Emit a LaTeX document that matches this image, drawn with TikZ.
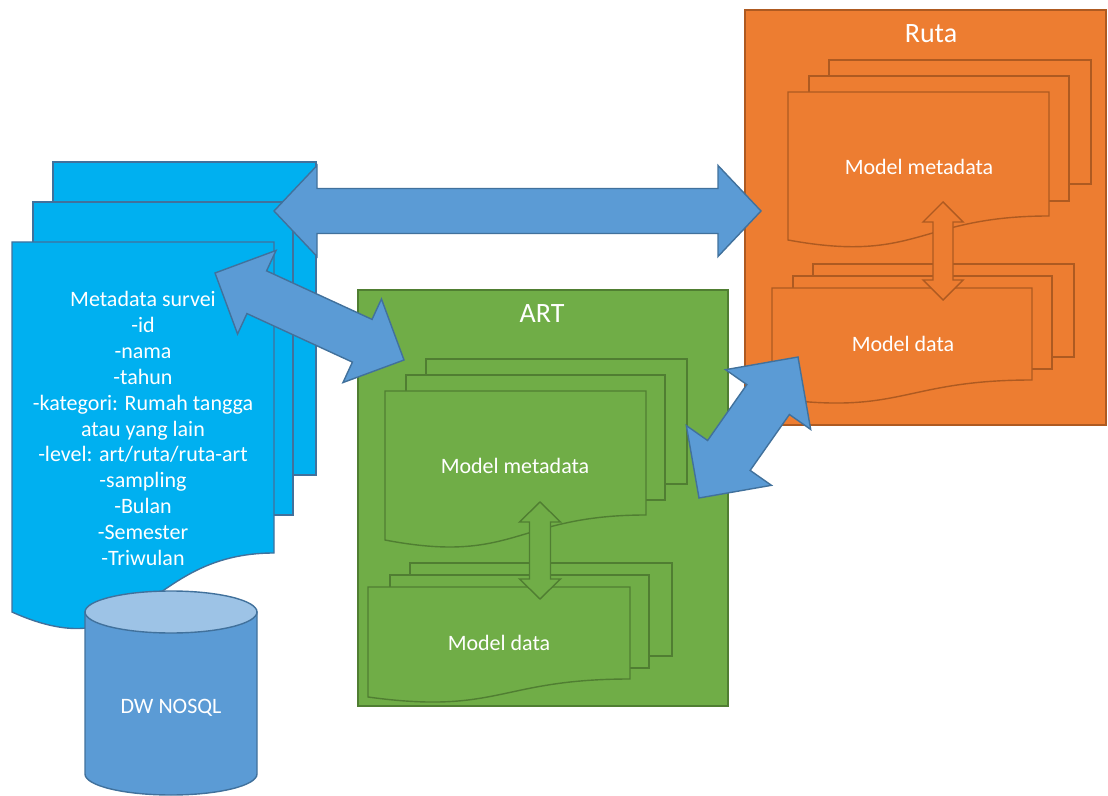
\documentclass[tikz,border=0pt]{standalone}
\usepackage{fontspec}
\setmainfont{Carlito}
\usepackage{tikz}
\usetikzlibrary{calc}

\definecolor{docblue}{HTML}{00B0F0}
\definecolor{lineblue}{HTML}{41719C}
\definecolor{arrowblue}{HTML}{5B9BD5}
\definecolor{topblue}{HTML}{9DC3E6}
\definecolor{rutaorange}{HTML}{ED7D31}
\definecolor{rutaline}{HTML}{AE5A21}
\definecolor{artgreen}{HTML}{70AD47}
\definecolor{artline}{HTML}{507E32}

\tikzset{
	bluepage/.style={fill=docblue,draw=lineblue,line width=0.7pt},
	rutapage/.style={fill=rutaorange,draw=rutaline,line width=0.7pt},
	artpage/.style={fill=artgreen,draw=artline,line width=0.7pt},
	bigarrow/.style={fill=arrowblue,draw=lineblue,line width=0.7pt,line join=miter},
	lbl/.style={text=white,font=\fontsize{11}{12.95}\selectfont,align=center},
	boxtitle/.style={text=white,font=\fontsize{14}{17}\selectfont}
}

% page with wavy bottom: style, x1, y1, x2, y right, y left
\newcommand{\docpage}[6]{\filldraw[#1] (#2,#3) -- (#4,#3) -- (#4,#5) .. controls ({(#2+#4)/2},#5) and ({(#2+#4)/2},{2*#6-#5}) .. (#2,#6) -- cycle;}

% block arrow with two heads: style, from, to, head length, head half width, shaft half width
\newcommand{\dblarrow}[6][bigarrow]{\filldraw[#1] (#2)
	-- ($(#2)!#4!(#3)!#5!90:(#3)$) -- ($(#2)!#4!(#3)!#6!90:(#3)$)
	-- ($(#3)!#4!(#2)!#6!-90:(#2)$) -- ($(#3)!#4!(#2)!#5!-90:(#2)$)
	-- (#3)
	-- ($(#3)!#4!(#2)!#5!90:(#2)$) -- ($(#3)!#4!(#2)!#6!90:(#2)$)
	-- ($(#2)!#4!(#3)!#6!-90:(#3)$) -- ($(#2)!#4!(#3)!#5!-90:(#3)$)
	-- cycle;}

\begin{document}
\begin{tikzpicture}[x=0.5pt,y=-0.5pt]
	\useasboundingbox (0,0) rectangle (1108,796);
	
	\filldraw[rutapage] (745,10) rectangle (1106,425);
	\filldraw[artpage] (358,290) rectangle (728,706);
	\node (ruta) at (931,34) [boxtitle] {Ruta};
	\node (art) at (542,314) [boxtitle] {ART};
	
	\filldraw[rutapage] (829,60) rectangle (1091,184);
	\filldraw[rutapage] (809,76) rectangle (1069,201);
	\docpage{rutapage}{788}{92}{1049}{216}{240}
	\filldraw[rutapage] (813,264) rectangle (1074,357);
	\filldraw[rutapage] (793,276) rectangle (1052,369);
	\docpage{rutapage}{772}{288}{1032}{380}{398}
	
	\filldraw[artpage] (426,359) rectangle (687,484);
	\filldraw[artpage] (406,375) rectangle (665,500);
	\docpage{artpage}{385}{391}{646}{515}{540}
	\filldraw[artpage] (410,563) rectangle (672,656);
	\filldraw[artpage] (390,575) rectangle (649,668);
	\docpage{artpage}{368}{587}{630}{679}{697}
	
	\coordinate (rm) at (943,202);
	\coordinate (rd) at (943,300);
	\coordinate (am) at (540,502);
	\coordinate (ad) at (540,599);
	\dblarrow[rutapage]{rm}{rd}{10pt}{10pt}{5pt}
	\dblarrow[artpage]{am}{ad}{10pt}{10.25pt}{5.25pt}
	
	\node (rmeta) at (919,167) [lbl] {Model metadata};
	\node (rdata) at (903,344) [lbl] {Model data};
	\node (ameta) at (515,466) [lbl] {Model metadata};
	\node (adata) at (499,643) [lbl] {Model data};
	
	\filldraw[bluepage] (53,162) rectangle (316,475);
	\filldraw[bluepage] (33,202) rectangle (293,515);
	\docpage{bluepage}{12}{242}{274}{553}{612}
	\node (meta) at (143,428.5) [lbl] {Metadata survei\\-id\\-nama\\-tahun\\-kategori: Rumah tangga\\atau yang lain\\-level: art/ruta/ruta-art\\-sampling\\-Bulan\\-Semester\\-Triwulan};
	
	\filldraw[fill=arrowblue,draw=lineblue,line width=0.7pt] (85,612) -- (85,774) arc[start angle=180,end angle=360,x radius=43pt,y radius=10.5pt] -- (257,612) -- cycle;
	\filldraw[fill=topblue,draw=lineblue,line width=0.7pt] (171,612) ellipse [x radius=43pt,y radius=10.5pt];
	\node (dw) at (171,708) [lbl] {DW NOSQL};
	
	\coordinate (s1) at (274,211);
	\coordinate (r1) at (761,211);
	\coordinate (s2) at (215,273);
	\coordinate (a2) at (404,360);
	\coordinate (a3) at (699,498);
	\coordinate (r3) at (798,357);
	\dblarrow{s1}{r1}{21.5pt}{22.75pt}{11.25pt}
	\dblarrow{s2}{a2}{23pt}{23pt}{11.75pt}
	\dblarrow{a3}{r3}{26pt}{26pt}{13pt}
\end{tikzpicture}
\end{document}
